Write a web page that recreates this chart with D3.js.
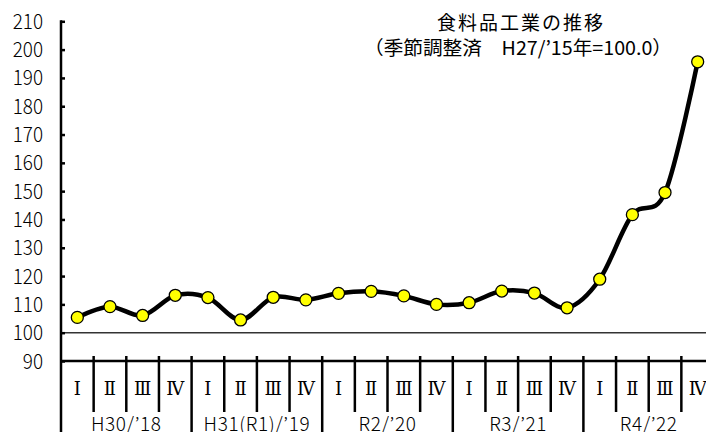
<!DOCTYPE html>
<html><head><meta charset="utf-8">
<script src="https://cdn.jsdelivr.net/npm/d3@7"></script>
<style>html,body{margin:0;padding:0;background:#fff;overflow:hidden}svg{display:block}</style>
</head><body>
<script>
const quarters = ["Ⅰ","Ⅱ","Ⅲ","Ⅳ"];
const years = ["H30/’18","H31(R1)/’19","R2/’20","R3/’21","R4/’22"];
const values = [105.4,109.2,106.1,113.2,112.4,104.5,112.5,111.6,113.9,114.6,113.0,110.0,110.6,114.7,114.0,108.8,118.9,141.7,149.5,195.7];
const yTicks = [90,100,110,120,130,140,150,160,170,180,190,200,210];
const title = "食料品工業の推移";
const subtitle = "（季節調整済　H27/’15年=100.0）";

const W = 706, H = 432;
const font = "'Noto Sans CJK JP', sans-serif";
const serif = "'DejaVu Serif', 'Liberation Serif', serif";
const svg = d3.select("body").append("svg").attr("width", W).attr("height", H);

const idx = d3.range(values.length);
const x = d3.scaleBand().domain(idx).range([61, 714]).paddingInner(0).paddingOuter(0);
const y = d3.scaleLinear().domain([90, 210]).range([361, 21.3]);
const cx = i => x(i) + x.bandwidth() / 2;

svg.append("line").attr("x1", x.range()[0]).attr("x2", W).attr("y1", y(100)).attr("y2", y(100))
  .attr("stroke", "#333").attr("stroke-width", 1.5);

svg.append("line").attr("x1", x.range()[0]).attr("x2", W).attr("y1", y(90)).attr("y2", y(90))
  .attr("stroke", "#000").attr("stroke-width", 2.5);

const yAxis = d3.axisRight(y).tickValues(yTicks).tickSize(4).tickFormat("");
const ga = svg.append("g").attr("transform", `translate(${x.range()[0]},0)`).call(yAxis);
ga.select(".domain").remove();
ga.selectAll(".tick line").attr("stroke", "#000").attr("stroke-width", 2.5);
svg.append("line").attr("x1", x.range()[0]).attr("x2", x.range()[0]).attr("y1", y(210) - 1).attr("y2", H)
  .attr("stroke", "#000").attr("stroke-width", 2.5);

svg.append("g").selectAll("text").data(yTicks).join("text")
  .attr("transform", d => `translate(43,${y(d)}) scale(0.9,1)`).attr("dy", "0.36em")
  .attr("text-anchor", "end").attr("font-family", font).attr("font-size", 21).attr("font-weight", 300)
  .attr("fill", "#000").text(d => d);

const boundaries = d3.range(1, values.length);
svg.append("g").selectAll("line").data(boundaries).join("line")
  .attr("x1", i => x(i)).attr("x2", i => x(i))
  .attr("y1", y(90) - 5).attr("y2", i => (i % 4 === 0) ? H : 412)
  .attr("stroke", "#000").attr("stroke-width", 2.5);

svg.append("g").selectAll("text").data(idx).join("text")
  .attr("x", i => cx(i)).attr("y", 389).attr("dy", "0.36em")
  .attr("text-anchor", "middle").attr("font-family", serif).attr("font-size", 18)
  .attr("fill", "#000").text(i => quarters[i % 4]);

svg.append("g").selectAll("text").data(years).join("text")
  .attr("x", (d, k) => (x(k * 4) + x(k * 4 + 3) + x.bandwidth()) / 2).attr("y", 431)
  .attr("text-anchor", "middle").attr("font-family", font).attr("font-size", 19).attr("font-weight", 300)
  .attr("letter-spacing", 0.6)
  .attr("fill", "#000").text(d => d);

const line = d3.line().x((d, i) => cx(i)).y(d => y(d)).curve(d3.curveCatmullRom.alpha(0));
svg.append("path").datum(values).attr("d", line).attr("fill", "none")
  .attr("stroke", "#000").attr("stroke-width", 4.5).attr("stroke-linejoin", "round");

svg.append("g").selectAll("circle").data(values).join("circle")
  .attr("cx", (d, i) => cx(i)).attr("cy", d => y(d)).attr("r", 6)
  .attr("fill", "#ffff00").attr("stroke", "#000").attr("stroke-width", 1.3);

svg.append("text").attr("x", 520).attr("y", 30).attr("text-anchor", "middle")
  .attr("font-family", font).attr("font-size", 19).attr("fill", "#000")
  .attr("textLength", 166).attr("lengthAdjust", "spacing").text(title);
svg.append("text").attr("x", 518).attr("y", 55).attr("text-anchor", "middle")
  .attr("font-family", font).attr("font-size", 19).attr("fill", "#000")
  .attr("textLength", 308).attr("lengthAdjust", "spacingAndGlyphs").text(subtitle);
</script>
</body></html>
